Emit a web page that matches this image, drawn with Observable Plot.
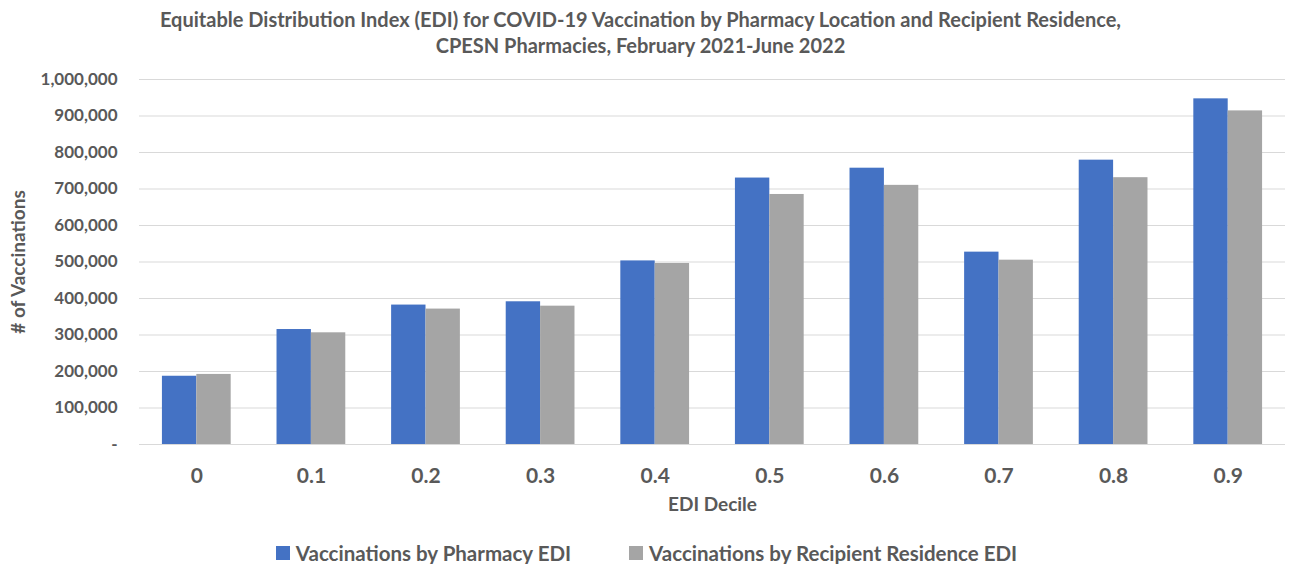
<!DOCTYPE html>
<html>
<head>
<meta charset="utf-8">
<script src="https://cdn.jsdelivr.net/npm/d3@7"></script>
<script src="https://cdn.jsdelivr.net/npm/@observablehq/plot@0.6"></script>
<style>
  body { margin: 0; background: #fff; font-family: Lato, "Open Sans", sans-serif; color: #595959; }
  #title { height: 62px; box-sizing: border-box; padding-top: 6px; text-align: center; font-weight: bold; font-size: 20px; line-height: 26px; padding-right: 8px; }
  #legend { display: flex; justify-content: center; align-items: center; gap: 58px; font-weight: bold; font-size: 20.5px; margin-top: 9px; padding-left: 4px; }
  .item { display: flex; align-items: center; gap: 6px; }
  .sw { width: 14px; height: 14px; display: inline-block; }
</style>
</head>
<body>
<div id="title">Equitable Distribution Index (EDI) for COVID-19 Vaccination by Pharmacy Location and Recipient Residence,<br>CPESN Pharmacies, February 2021-June 2022</div>
<div id="chart"></div>
<div id="legend"></div>
<script>
const deciles = ["0", "0.1", "0.2", "0.3", "0.4", "0.5", "0.6", "0.7", "0.8", "0.9"];
const pharmacyEDI = [187000, 315000, 382000, 391000, 503000, 730000, 757000, 527000, 779000, 947000];
const residenceEDI = [192000, 306000, 371000, 379000, 496000, 685000, 710000, 505000, 731000, 914000];
const seriesNames = ["Vaccinations by Pharmacy EDI", "Vaccinations by Recipient Residence EDI"];
const seriesColors = ["#4472C4", "#A5A5A5"];
const yTicks = d3.range(0, 1000001, 100000);

const pharm = deciles.map((d, i) => ({decile: d, value: pharmacyEDI[i]}));
const resid = deciles.map((d, i) => ({decile: d, value: residenceEDI[i]}));

const W = 1289, H = 470, ML = 139, MR = 4;
const step = (W - ML - MR) / deciles.length;
const half = step * 0.15;

const chart = Plot.plot({
  width: W,
  height: H,
  marginLeft: ML,
  marginRight: MR,
  marginTop: 17,
  marginBottom: 88,
  style: { fontFamily: "Lato, 'Open Sans', sans-serif", color: "#595959", background: "#fff" },
  x: { domain: deciles, paddingInner: 0.7, paddingOuter: 0.35, round: false },
  y: { domain: [0, 1000000] },
  marks: [
    Plot.ruleY(yTicks, { stroke: "#d9d9d9", strokeWidth: 1 }),
    Plot.barY(pharm, { x: "decile", y: "value", fill: seriesColors[0], dx: -half }),
    Plot.barY(resid, { x: "decile", y: "value", fill: seriesColors[1], dx: half }),
    Plot.axisY({
      ticks: yTicks,
      tickSize: 0,
      tickPadding: 22,
      tickFormat: d => d === 0 ? "-" : d3.format(",")(d),
      fontSize: 17,
      fontWeight: "bold",
      fill: "#595959",
      label: null
    }),
    Plot.text(["# of Vaccinations"], {
      frameAnchor: "left",
      textAnchor: "middle",
      dx: -121,
      rotate: -90,
      fontSize: 19,
      fontWeight: "bold",
      fill: "#595959"
    }),
    Plot.axisX({
      tickSize: 0,
      tickPadding: 24,
      fontSize: 21,
      fontWeight: "bold",
      fill: "#595959",
      label: null
    }),
    Plot.text(["EDI Decile"], {
      frameAnchor: "bottom",
      dy: 66,
      fontSize: 19,
      fontWeight: "bold",
      fill: "#595959"
    })
  ]
});
document.getElementById("chart").appendChild(chart);

const legend = document.getElementById("legend");
seriesNames.forEach((n, i) => {
  const it = document.createElement("div");
  it.className = "item";
  it.innerHTML = `<span class="sw" style="background:${seriesColors[i]}"></span><span>${n}</span>`;
  legend.appendChild(it);
});
</script>
</body>
</html>
